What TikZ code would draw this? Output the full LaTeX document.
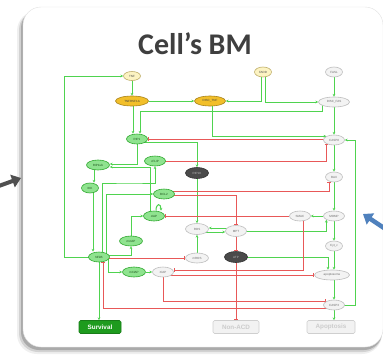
\documentclass[tikz,border=0pt]{standalone}
\usepackage{fontspec}
\setmainfont{Liberation Sans}
\newfontfamily\titlefont{Carlito}
\usetikzlibrary{arrows.meta,shapes.geometric}

\definecolor{gline}{HTML}{4FD34F}
\definecolor{rline}{HTML}{E85858}
\definecolor{gfill}{HTML}{8FE38F}
\definecolor{gdraw}{HTML}{2FA82F}
\definecolor{gtxt}{HTML}{1A501A}
\definecolor{wfill}{HTML}{F3F3F3}
\definecolor{wdraw}{HTML}{BDBDBD}
\definecolor{wtxt}{HTML}{6A6A6A}
\definecolor{dfill}{HTML}{4A4A4A}
\definecolor{ddraw}{HTML}{2E2E2E}
\definecolor{dtxt}{HTML}{BBBBBB}
\definecolor{yfill}{HTML}{FCF3C2}
\definecolor{ydraw}{HTML}{BFAE6A}
\definecolor{ofill}{HTML}{F2BF2A}
\definecolor{odraw}{HTML}{A8821A}
\definecolor{survfill}{HTML}{1E9B1E}
\definecolor{outfill}{HTML}{F2F2F2}
\definecolor{outdraw}{HTML}{CFCFCF}
\definecolor{outtxt}{HTML}{CCCCCC}
\definecolor{titlecol}{HTML}{3F3F3F}
\definecolor{shadowcol}{HTML}{7A7A7A}
\definecolor{darkarrow}{HTML}{4F4F4F}
\definecolor{bluearrow}{HTML}{4F81BD}

\pgfdeclarelayer{panel}
\pgfdeclarelayer{edges}
\pgfsetlayers{panel,edges,main}

\tikzset{
  nd/.style={ellipse, inner sep=0pt, minimum height=10pt, line width=0.6pt,
             font=\fontsize{3}{3.4}\selectfont},
  gn/.style={nd, fill=gfill, draw=gdraw, text=gtxt},
  wn/.style={nd, fill=wfill, draw=wdraw, text=wtxt},
  dn/.style={nd, fill=dfill, draw=ddraw, text=dtxt, minimum height=11pt},
  yn/.style={nd, fill=yfill, draw=ydraw, text=black!70},
  on/.style={nd, fill=ofill, draw=odraw, text=black!75},
  fate/.style={rectangle, rounded corners=1.5pt, inner sep=0pt, minimum height=13pt,
               font=\bfseries\fontsize{6.3}{7}\selectfont, line width=0.6pt},
  act/.style={draw=gline, line width=1pt, -{Stealth[length=2.8pt,width=2.8pt]}},
  inh/.style={draw=rline, line width=1pt, -{Bar[width=3.6pt,line width=1.1pt]}},
}

\begin{document}
\begin{tikzpicture}[x=1pt,y=-1pt]
\useasboundingbox (0,0) rectangle (383,354);

% ---- panel with soft shadow ----
\begin{pgfonlayer}{panel}
  \fill[shadowcol, opacity=0.12, rounded corners=20pt] (17,11) rectangle (382,354);
  \fill[shadowcol, opacity=0.25, rounded corners=19pt] (19,11) rectangle (382,352);
  \fill[shadowcol, opacity=0.45, rounded corners=18pt] (21,10) rectangle (382,350);
  \fill[white, draw=black!12, line width=0.4pt, rounded corners=18pt] (23,7) rectangle (383,347);
  % pointers from the neighbouring panels
  \draw[darkarrow, line width=4pt, -{Triangle[length=9pt,width=13pt]}] (-4,187) -- (21,178);
  \draw[bluearrow, line width=4.5pt, -{Triangle[length=9pt,width=13pt]}] (390,232) -- (363,214);
\end{pgfonlayer}

\node[font=\titlefont\bfseries\fontsize{30}{31}\selectfont, text=titlecol] (title) at (195,44) {Cell’s BM};

% ---- nodes ----
\node[yn, minimum width=17pt, minimum height=9pt] (TNF) at (132,76) {TNF};
\node[on, minimum width=33pt] (TNFR) at (132,101) {TNFRSF1A};
\node[on, minimum width=31pt] (DISCTNF) at (210,101) {DISC\_TNF};
\node[yn, minimum width=17pt] (FADD) at (263,72) {FADD};
\node[wn, minimum width=17pt] (FASL) at (334,72) {FASL};
\node[wn, minimum width=31pt] (DISCFAS) at (334,102) {DISC\_FAS};
\node[gn, minimum width=21pt] (RIP1) at (137,139) {RIP1};
\node[wn, minimum width=21pt] (CASP8) at (334,140) {CASP8};
\node[gn, minimum width=23pt] (RIP1ub) at (98,165) {RIP1ub};
\node[gn, minimum width=21pt] (cFLIP) at (155,161) {cFLIP};
\node[dn, minimum width=23pt] (RIP1K) at (197,173) {RIP1K};
\node[gn, minimum width=17pt] (IKK) at (90,188) {IKK};
\node[gn, minimum width=21pt] (BCL2) at (164,194) {BCL2};
\node[wn, minimum width=17pt] (BAX) at (334,177) {BAX};
\node[gn, minimum width=21pt] (cIAP) at (154,216) {cIAP};
\node[wn, minimum width=23pt, minimum height=11pt] (ROS) at (197,229) {ROS};
\node[wn, minimum width=21pt, minimum height=11pt] (MPT) at (236,231) {MPT};
\node[wn, minimum width=21pt] (SMAC) at (300,216) {SMAC};
\node[wn, minimum width=21pt] (MOMP) at (334,216) {MOMP};
\node[wn, minimum width=17pt] (Cytc) at (334,246) {Cyt\_c};
\node[gn, minimum width=23pt] (mcIAP) at (131,241) {mcIAP};
\node[gn, minimum width=21pt] (NFkB) at (99,257) {NFkB};
\node[wn, minimum width=23pt] (mROS) at (197,258) {mROS};
\node[dn, minimum width=23pt] (ATP) at (236,257) {ATP};
\node[wn, minimum width=35pt] (apopt) at (332,275) {apoptosome};
\node[gn, minimum width=23pt] (mXIAP) at (134,272) {mXIAP};
\node[wn, minimum width=21pt] (XIAP) at (163,272) {XIAP};
\node[wn, minimum width=21pt] (CASP3) at (334,305) {CASP3};

\node[fate, minimum width=42pt, fill=survfill, draw=survfill!80!black, text=white] (Survival) at (100,327) {Survival};
\node[fate, minimum width=46pt, fill=outfill, draw=outdraw, text=outtxt] (NonACD) at (236,327) {Non-ACD};
\node[fate, minimum width=48pt, fill=outfill, draw=outdraw, text=outtxt] (Apoptosis) at (331,327) {Apoptosis};

% ---- connectors ----
\begin{pgfonlayer}{edges}
  % receptor level
  \draw[act] (NFkB.center) -| (64,76) -- (TNF.west);
  \draw[act] (TNF) -- (TNFR);
  \draw[act] (TNFR) -- (DISCTNF);
  \draw[act] ([xshift=-2pt]FADD.center) |- (DISCTNF.east);
  \draw[act] ([xshift=2pt]FADD.center) |- (DISCFAS.west);
  \draw[act] (FASL) -- (DISCFAS);
  \draw[act] ([xshift=-12pt]DISCFAS.center) |- (140,111) -- ([xshift=3pt]RIP1.north);
  \draw[act] ([xshift=1pt]TNFR.center) -- ([xshift=-4pt]RIP1.north);
  \draw[act] ([xshift=2pt]DISCTNF.center) |- (CASP8.north west);
  \draw[inh] ([yshift=1pt]CASP8.center) -- (RIP1.east);
  \draw[act] (CASP3.center) -| (355,140) -- (CASP8.east);
  \draw[act] (DISCFAS) -- (CASP8);
  \draw[act] (CASP8) -- (BAX);

  % survival branch
  \draw[act] (RIP1.center) |- ([yshift=1pt]RIP1ub.east);
  \draw[act] ([xshift=-4pt]cIAP.center) |- ([yshift=-2pt]RIP1ub.east);
  \draw[act] ([yshift=-3pt]RIP1.center) -| (RIP1K.north);
  \draw[act] ([xshift=-4pt]RIP1ub.center) -- ([xshift=4pt]IKK.north);
  \draw[act] ([xshift=3pt]IKK.center) -- ([xshift=-6pt]NFkB.north);
  \draw[act] ([xshift=3pt]NFkB.center) |- (130,183) -| (cFLIP.south);
  \draw[act] ([xshift=7pt]NFkB.center) |- (BCL2.west);
  \draw[act] ([yshift=2pt]NFkB.center) -| (mcIAP.south);
  \draw[act] (mcIAP.center) |- (cIAP.west);
  \draw[act] ([xshift=2pt]cIAP.north) to[out=90,in=90,looseness=4] ([xshift=7pt]cIAP.north);
  \draw[act] ([xshift=9pt]NFkB.center) |- (mXIAP.west);
  \draw[act] (mXIAP) -- (XIAP);
  \draw[act] (NFkB.center) -- (NFkB.center |- Survival.north);
  \draw[inh] ([yshift=-3pt]CASP3.center) -| ([xshift=4pt]NFkB.south);
  \draw[inh] ([yshift=-1pt]NFkB.center) -- (mROS.west);

  % ROS / MPT / ATP
  \draw[act] (mROS) -- (ROS);
  \draw[act] (RIP1K) -- (ROS);
  \draw[act] ([yshift=-3pt]ROS.center) -- ([yshift=-1pt]MPT.west);
  \draw[act] ([yshift=3pt]MPT.center) -- ([yshift=1pt]ROS.east);
  \draw[act] (MPT.center) -| (MOMP.south west);
  \draw[inh] (MPT) -- (ATP);
  \draw[inh] (ATP) -- (NonACD);
  \draw[act] (ATP.center) -| ([xshift=-4pt]apopt.north);

  % mitochondrial branch
  \draw[inh] ([yshift=3pt]BCL2.center) -| ([xshift=-5pt]BAX.south);
  \draw[inh] ([yshift=-1pt]BCL2.center) -| (MPT.north);
  \draw[inh] (cFLIP.center) -| (CASP8.south west);
  \draw[inh] (SMAC) -- (cIAP);
  \draw[inh] ([xshift=3pt]SMAC.center) |- ([yshift=2pt]XIAP.east);
  \draw[inh] ([yshift=-3pt]XIAP.center) -- (apopt.west);
  \draw[inh] (XIAP.center) |- (CASP3.north west);
  \draw[act] (BAX) -- (MOMP);
  \draw[act] (MOMP) -- (SMAC);
  \draw[act] (MOMP) -- (Cytc);
  \draw[act] (Cytc) -- ([xshift=2pt]apopt.north);
  \draw[act] ([xshift=2pt]apopt.center) -- (CASP3.north);
  \draw[act] (CASP3.center) -- (CASP3.center |- Apoptosis.north);
\end{pgfonlayer}
\end{tikzpicture}
\end{document}
